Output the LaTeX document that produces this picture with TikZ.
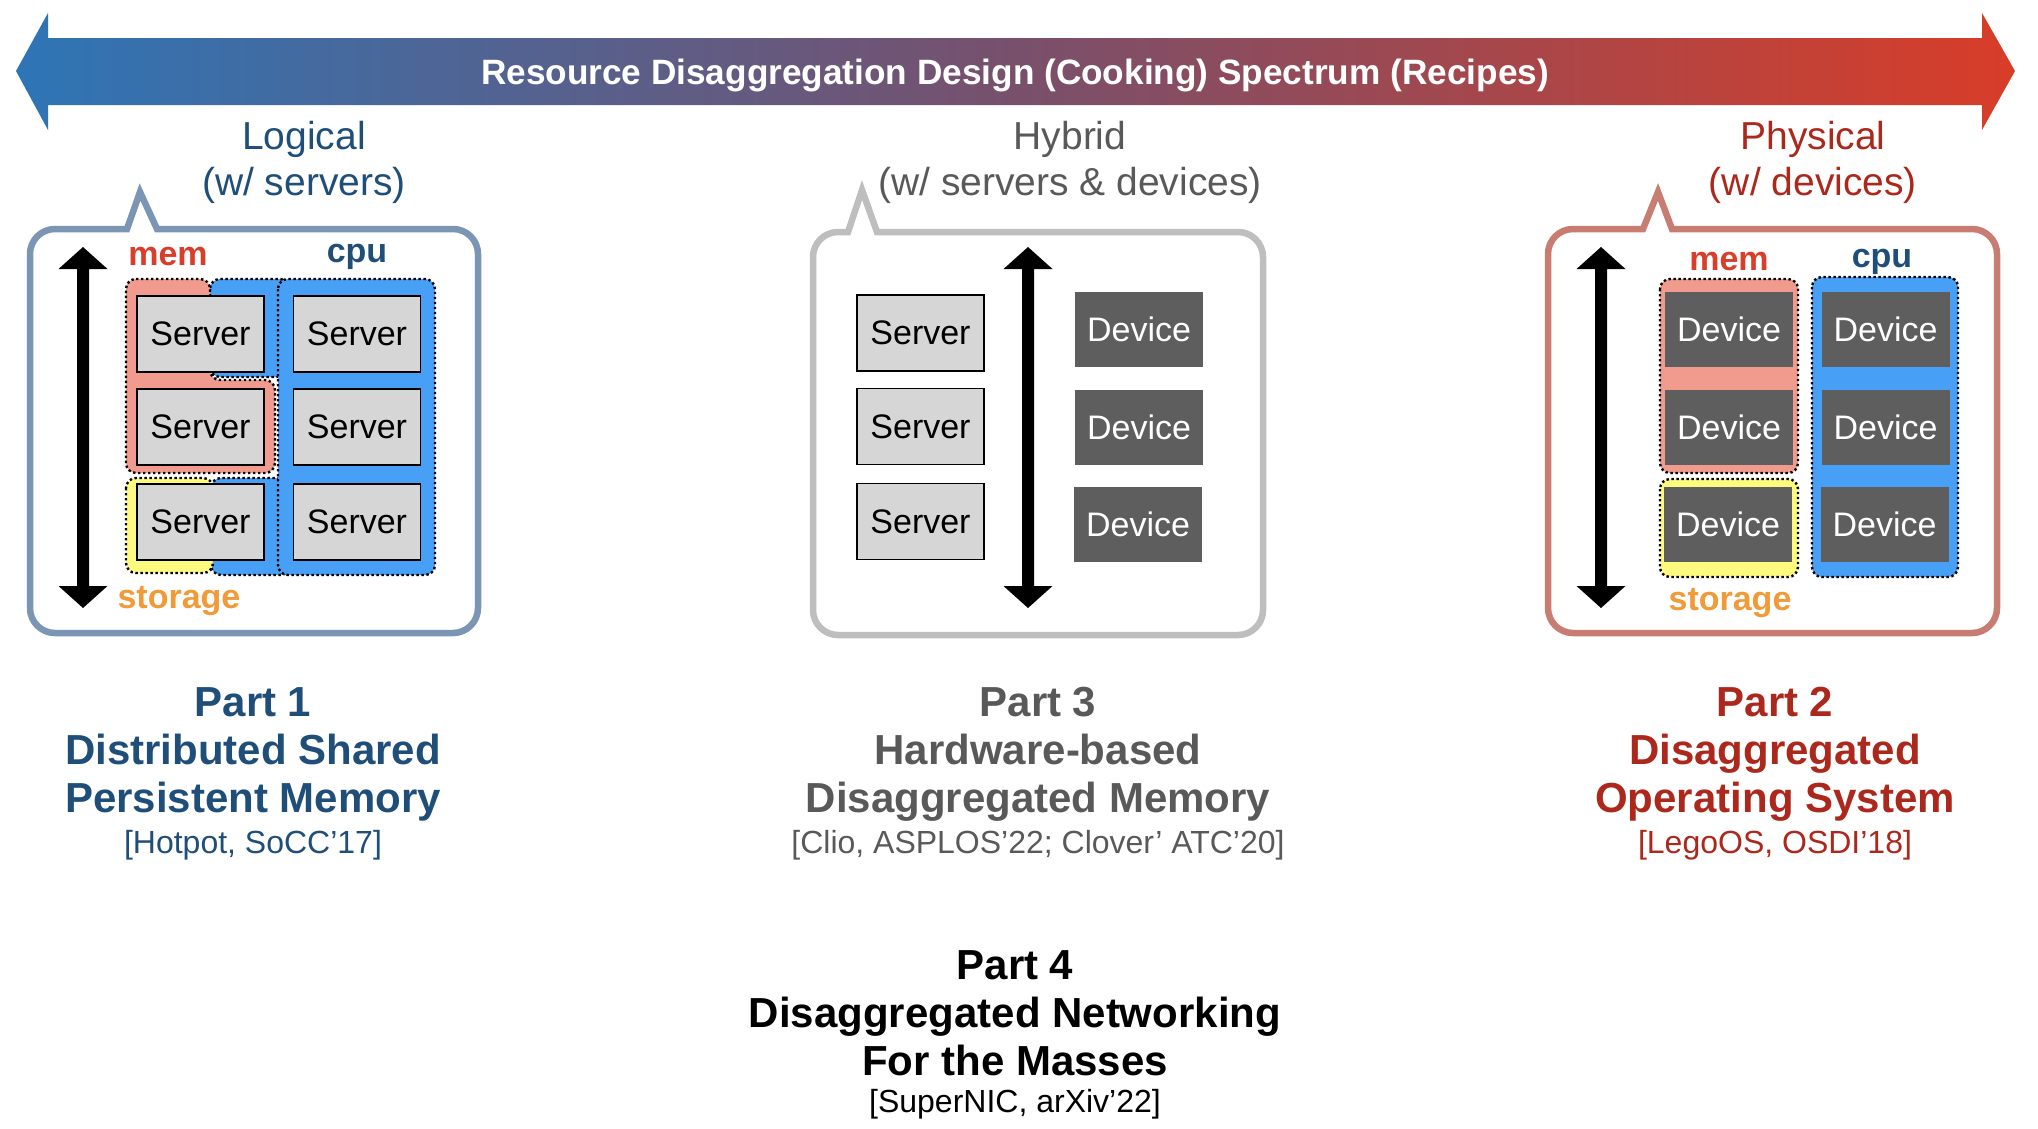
\documentclass[tikz,border=0pt]{standalone}
\usepackage{fontspec}
\setmainfont{Liberation Sans}
\definecolor{cpuBlue}{RGB}{71,160,246}
\definecolor{memRed}{RGB}{240,155,142}
\definecolor{stoYellow}{RGB}{253,250,128}
\definecolor{srvGray}{RGB}{214,214,214}
\definecolor{devGray}{RGB}{94,94,94}
\definecolor{labRed}{RGB}{217,62,43}
\definecolor{labBlue}{RGB}{31,78,121}
\definecolor{labOrange}{RGB}{241,154,56}
\definecolor{hybGray}{RGB}{89,89,89}
\definecolor{phyRed}{RGB}{172,40,28}
\definecolor{boxBlue}{RGB}{122,150,180}
\definecolor{boxGray}{RGB}{190,190,190}
\definecolor{boxRed}{RGB}{200,125,115}
\definecolor{arrL}{RGB}{46,117,182}
\definecolor{arrM}{RGB}{120,80,108}
\definecolor{arrR}{RGB}{216,61,40}
\newcommand{\MyDblArrow}[3]{%
  \fill[black] (#1-6,#2+22) -- (#1-24.5,#2+22) -- (#1,#2) -- (#1+24.5,#2+22) -- (#1+6,#2+22)
   -- (#1+6,#3-22) -- (#1+24.5,#3-22) -- (#1,#3) -- (#1-24.5,#3-22) -- (#1-6,#3-22) -- cycle;}
\tikzset{
  srv/.style={draw=black, line width=1.2pt, fill=srvGray, minimum width=127pt, minimum height=76pt, inner sep=0pt, font=\fontsize{34}{40}\selectfont},
  dev/.style={fill=devGray, text=white, minimum width=128pt, minimum height=75pt, inner sep=0pt, font=\fontsize{34}{40}\selectfont},
  grp/.style={draw=black, line width=2.4pt, dash pattern=on 2.4pt off 2.6pt, rounded corners=10pt},
  tag/.style={font=\bfseries\fontsize{34}{40}\selectfont, inner sep=0pt},
  head/.style={font=\fontsize{39}{46}\selectfont, align=center, inner sep=0pt},
  ptitle/.style={font=\bfseries\fontsize{42}{48}\selectfont, align=center, inner sep=0pt},
  cite/.style={font=\fontsize{32}{38}\selectfont, inner sep=0pt},
  callout/.style={line width=6.5pt, line join=miter},
}
\begin{document}
\begin{tikzpicture}[x=1pt,y=-1pt]
\useasboundingbox (0,0) rectangle (2038,1128);
% spectrum arrow
\shade[left color=arrL, right color=arrR, middle color=arrM]
  (16,71) -- (48,13) -- (48,38) -- (1982,38) -- (1982,13) -- (2015,71) -- (1982,130) -- (1982,105) -- (48,105) -- (48,130) -- cycle;
\node[text=white, font=\bfseries\fontsize{35.2}{40}\selectfont, inner sep=0pt] (spec) at (1015,75) {Resource Disaggregation Design (Cooking) Spectrum (Recipes)};

% headings
\node[head, text=labBlue] (hlog) at (304,162) {Logical\\(w/ servers)};
\node[head, text=hybGray] (hhyb) at (1070,162) {Hybrid\\(w/ servers \& devices)};
\node[head, text=phyRed] (hphy) at (1813,162) {Physical\\(w/ devices)};

% callouts
\draw[callout, draw=boxBlue, rounded corners=25pt] (30,430) -- (30,229) [sharp corners] -- (127,229) -- (140,192) -- (157,229) [rounded corners=25pt] -- (478,229) -- (478,633) -- (30,633) -- cycle;
\draw[callout, draw=boxGray, rounded corners=25pt] (813,430) -- (813,232) [sharp corners] -- (848,232) -- (862,190) -- (877,232) [rounded corners=25pt] -- (1263,232) -- (1263,635) -- (813,635) -- cycle;
\draw[callout, draw=boxRed, rounded corners=25pt] (1548,430) -- (1548,229) [sharp corners] -- (1643,229) -- (1658,192) -- (1672,229) [rounded corners=25pt] -- (1997,229) -- (1997,633) -- (1548,633) -- cycle;

% ---------- left: logical ----------
\MyDblArrow{83}{247}{608}
\node[tag, text=labRed] (lmem) at (168,257) {mem};
\node[tag, text=labBlue] (lcpu) at (357,257) {cpu};
\node[tag, text=labOrange] (lsto) at (179,601) {storage};
\filldraw[grp, fill=cpuBlue] (210,279) rectangle (290,377);
\filldraw[grp, fill=cpuBlue] (211,478) rectangle (290,575);
\filldraw[grp, fill=cpuBlue] (278,279) rectangle (435,575);
\filldraw[grp, fill=memRed] (126,279) -- (210,279) -- (210,380) -- (275,380) -- (275,473) -- (126,473) -- cycle;
\filldraw[grp, fill=stoYellow] (126,478) rectangle (213,573);
\node[srv] (ls11) at (200.5,334) {Server};
\node[srv] (ls21) at (200.5,427) {Server};
\node[srv] (ls31) at (200.5,522) {Server};
\node[srv] (ls12) at (357,334) {Server};
\node[srv] (ls22) at (357,427) {Server};
\node[srv] (ls32) at (357,522) {Server};

% ---------- middle: hybrid ----------
\MyDblArrow{1028}{247}{608}
\node[srv] (ms1) at (920.5,333) {Server};
\node[srv] (ms2) at (920.5,426.5) {Server};
\node[srv] (ms3) at (920.5,521.5) {Server};
\node[dev] (md1) at (1139,329.5) {Device};
\node[dev] (md2) at (1139,427) {Device};
\node[dev] (md3) at (1138,524.5) {Device};

% ---------- right: physical ----------
\MyDblArrow{1601}{247}{608}
\node[tag, text=labRed] (rmem) at (1729,262) {mem};
\node[tag, text=labBlue] (rcpu) at (1882,262) {cpu};
\node[tag, text=labOrange] (rsto) at (1730,603) {storage};
\filldraw[grp, fill=memRed] (1660,279) rectangle (1798,473);
\filldraw[grp, fill=stoYellow] (1660,479) rectangle (1798,577);
\filldraw[grp, fill=cpuBlue] (1812,277) rectangle (1958,577);
\node[dev] (rd11) at (1729,329.5) {Device};
\node[dev] (rd21) at (1729,427.5) {Device};
\node[dev] (rd31) at (1728,524.5) {Device};
\node[dev] (rd12) at (1885.5,329.5) {Device};
\node[dev] (rd22) at (1885.5,427.5) {Device};
\node[dev] (rd32) at (1884.5,524.5) {Device};

% ---------- part titles ----------
\node[ptitle, text=labBlue] (p1) at (253,754) {Part 1\\Distributed Shared\\Persistent Memory};
\node[cite, text=labBlue] (c1) at (253,845) {[Hotpot, SoCC’17]};
\node[ptitle, text=hybGray] (p3) at (1038,754) {Part 3\\Hardware-based\\Disaggregated Memory};
\node[cite, text=hybGray] (c3) at (1038,845) {[Clio, ASPLOS’22; Clover’ ATC’20]};
\node[ptitle, text=phyRed] (p2) at (1775,754) {Part 2\\Disaggregated\\Operating System};
\node[cite, text=phyRed] (c2) at (1775,845) {[LegoOS, OSDI’18]};
\node[ptitle, text=black] (p4) at (1015,1013) {Part 4\\Disaggregated Networking\\For the Masses};
\node[cite, text=black] (c4) at (1015,1104) {[SuperNIC, arXiv’22]};
\end{tikzpicture}
\end{document}
